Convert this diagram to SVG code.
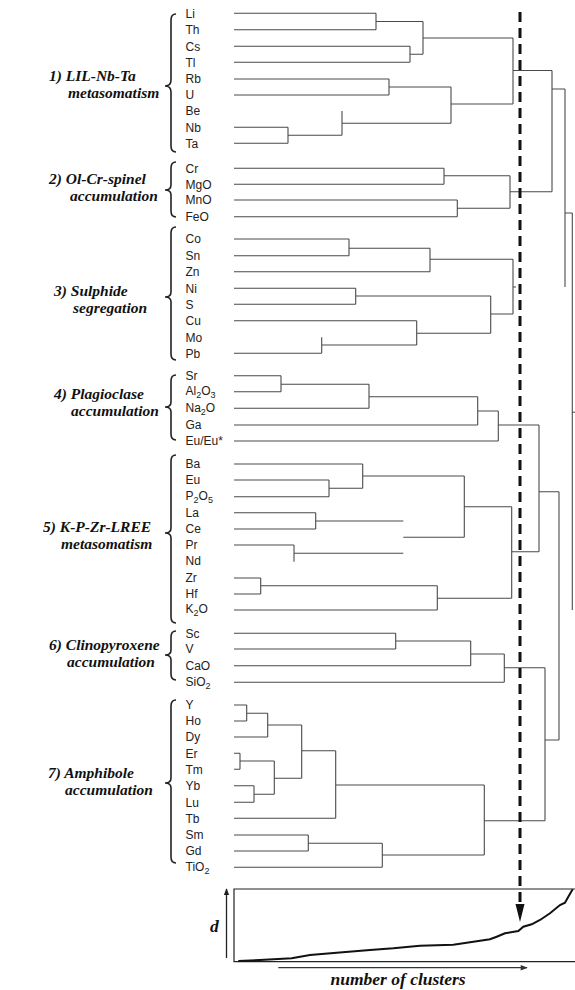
<svg xmlns="http://www.w3.org/2000/svg" width="575" height="990" viewBox="0 0 575 990">
<style>
.lf{font-family:"Liberation Sans",Arial,sans-serif;font-size:12px;fill:#222}
.sub{font-size:9px}
.gl{font-family:"Liberation Serif","Times New Roman",serif;font-size:15.5px;font-weight:bold;font-style:italic;fill:#111}
.cl{font-family:"Liberation Serif","Times New Roman",serif;font-size:17.5px;font-weight:bold;font-style:italic;fill:#111}
.ln{fill:none;stroke:#4a4a4a;stroke-width:1.1}
.br{fill:none;stroke:#222;stroke-width:1.6}
.ax{fill:none;stroke:#222;stroke-width:1.2}
</style>
<defs>
<marker id="ah" viewBox="0 0 10 10" refX="9" refY="5" markerWidth="7" markerHeight="7" markerUnits="userSpaceOnUse" orient="auto"><path d="M0,1 L10,5 L0,9 Z" fill="#222"/></marker>
<marker id="ah2" viewBox="0 0 10 10" refX="9" refY="5" markerWidth="9" markerHeight="7" markerUnits="userSpaceOnUse" orient="auto"><path d="M0,1 L10,5 L0,9 Z" fill="#333"/></marker>
</defs>

<g id="group1-label"><text class="gl" x="49" y="80.5">1) LIL-Nb-Ta</text><text class="gl" x="68" y="97.5">metasomatism</text>
<path class="br" d="M176,14 Q171,14 171,20 L171,80 Q171,86 165,86 Q171,86 171,92 L171,146 Q171,152 176,152"/></g>
<g id="group2-label"><text class="gl" x="49" y="183.5">2) Ol-Cr-spinel</text><text class="gl" x="70" y="200.5">accumulation</text>
<path class="br" d="M176,162 Q171,162 171,168 L171,185 Q171,190 165,190 Q171,190 171,195 L171,211 Q171,217 176,217"/></g>
<g id="group3-label"><text class="gl" x="54" y="295.5">3) Sulphide</text><text class="gl" x="73" y="312.5">segregation</text>
<path class="br" d="M176,227 Q171,227 171,233 L171,292 Q171,297 165,297 Q171,297 171,302 L171,354 Q171,360 176,360"/></g>
<g id="group4-label"><text class="gl" x="54" y="398.5">4) Plagioclase</text><text class="gl" x="71" y="415.5">accumulation</text>
<path class="br" d="M176,375 Q171,375 171,381 L171,402 Q171,407 165,407 Q171,407 171,412 L171,434 Q171,440 176,440"/></g>
<g id="group5-label"><text class="gl" x="43" y="531.5">5) K-P-Zr-LREE</text><text class="gl" x="61" y="548.5">metasomatism</text>
<path class="br" d="M176,455 Q171,455 171,461 L171,528 Q171,533 165,533 Q171,533 171,538 L171,617 Q171,623 176,623"/></g>
<g id="group6-label"><text class="gl" x="49" y="649.5">6) Clinopyroxene</text><text class="gl" x="67" y="666.5">accumulation</text>
<path class="br" d="M176,631 Q171,631 171,637 L171,650 Q171,655 165,655 Q171,655 171,660 L171,674 Q171,680 176,680"/></g>
<g id="group7-label"><text class="gl" x="48" y="777.5">7) Amphibole</text><text class="gl" x="65" y="794.5">accumulation</text>
<path class="br" d="M176,700 Q171,700 171,706 L171,778 Q171,783 165,783 Q171,783 171,788 L171,857 Q171,863 176,863"/></g>

<g id="leaves">
<text class="lf" x="185.5" y="17.6">Li</text>
<text class="lf" x="185.5" y="34">Th</text>
<text class="lf" x="185.5" y="50.6">Cs</text>
<text class="lf" x="185.5" y="66.6">Tl</text>
<text class="lf" x="185.5" y="83.3">Rb</text>
<text class="lf" x="185.5" y="99.3">U</text>
<text class="lf" x="185.5" y="115.3">Be</text>
<text class="lf" x="185.5" y="131.6">Nb</text>
<text class="lf" x="185.5" y="147.6">Ta</text>
<text class="lf" x="185.5" y="172.6">Cr</text>
<text class="lf" x="185.5" y="188.6">MgO</text>
<text class="lf" x="185.5" y="204.3">MnO</text>
<text class="lf" x="185.5" y="221">FeO</text>
<text class="lf" x="185.5" y="243.3">Co</text>
<text class="lf" x="185.5" y="260">Sn</text>
<text class="lf" x="185.5" y="276">Zn</text>
<text class="lf" x="185.5" y="292.6">Ni</text>
<text class="lf" x="185.5" y="308.6">S</text>
<text class="lf" x="185.5" y="325">Cu</text>
<text class="lf" x="185.5" y="341.6">Mo</text>
<text class="lf" x="185.5" y="357.6">Pb</text>
<text class="lf" x="185.5" y="380">Sr</text>
<text class="lf" x="185.5" y="395">Al<tspan class="sub" dy="3">2</tspan><tspan dy="-3">O</tspan><tspan class="sub" dy="3">3</tspan></text>
<text class="lf" x="185.5" y="411.6">Na<tspan class="sub" dy="3">2</tspan><tspan dy="-3">O</tspan></text>
<text class="lf" x="185.5" y="429.3">Ga</text>
<text class="lf" x="185.5" y="445.3">Eu/Eu*</text>
<text class="lf" x="185.5" y="468.3">Ba</text>
<text class="lf" x="185.5" y="484.3">Eu</text>
<text class="lf" x="185.5" y="500">P<tspan class="sub" dy="3">2</tspan><tspan dy="-3">O</tspan><tspan class="sub" dy="3">5</tspan></text>
<text class="lf" x="185.5" y="517">La</text>
<text class="lf" x="185.5" y="533.3">Ce</text>
<text class="lf" x="185.5" y="549.3">Pr</text>
<text class="lf" x="185.5" y="565.3">Nd</text>
<text class="lf" x="185.5" y="582.3">Zr</text>
<text class="lf" x="185.5" y="598.3">Hf</text>
<text class="lf" x="185.5" y="613.3">K<tspan class="sub" dy="3">2</tspan><tspan dy="-3">O</tspan></text>
<text class="lf" x="185.5" y="637.6">Sc</text>
<text class="lf" x="185.5" y="653.3">V</text>
<text class="lf" x="185.5" y="670">CaO</text>
<text class="lf" x="185.5" y="685.6">SiO<tspan class="sub" dy="3">2</tspan></text>
<text class="lf" x="185.5" y="709.3">Y</text>
<text class="lf" x="185.5" y="725.3">Ho</text>
<text class="lf" x="185.5" y="741.3">Dy</text>
<text class="lf" x="185.5" y="757.6">Er</text>
<text class="lf" x="185.5" y="773.6">Tm</text>
<text class="lf" x="185.5" y="790">Yb</text>
<text class="lf" x="185.5" y="806.6">Lu</text>
<text class="lf" x="185.5" y="822.6">Tb</text>
<text class="lf" x="185.5" y="839.3">Sm</text>
<text class="lf" x="185.5" y="855.3">Gd</text>
<text class="lf" x="185.5" y="870.6">TiO<tspan class="sub" dy="3">2</tspan></text>
</g>

<g id="connectors">
<path class="ln" d="M234,13.3H376M234,29.7H376M376,13.3V29.7M376,21.5H423M234,46.3H410M234,62.3H410M410,46.3V62.3M410,54.3H423M423,21.5V54.3M423,38H513M234,79H389M234,95H389M389,79V95M389,87H451M342,111V135.3M234,127.3H288M234,143.3H288M288,127.3V143.3M288,135.3H342M342,123.3H451M451,87V123.3M451,104H513M513,38V104M513,70.5H552M552,70.5V191.7M552,89H565M565,89V287"/>
<path class="ln" d="M234,168.3H444M234,184.3H444M444,168.3V184.3M444,175.7H510M234,200H457.3M234,216.7H457.3M457.3,200V216.7M457.3,208.3H510M510,175.7V208.3M510,191.7H552M565,213H572.3M572.3,213V610M572.3,412.3H575"/>
<path class="ln" d="M234,239H349M234,255.7H349M349,239V255.7M349,248.3H430M234,271.7H430M430,248.3V271.7M430,259.3H513M234,288.3H355.7M234,304.3H355.7M355.7,288.3V304.3M355.7,296H490.7M234,320.7H416.7M234,353.3H321.7M321.7,337.3V353.3M321.7,345H416.7M416.7,320.7V345M416.7,333.3H490.7M490.7,296V333.3M490.7,314H513M513,259.3V314M513,287H516"/>
<path class="ln" d="M234,375.7H281M234,391.7H281M281,375.7V391.7M281,384.3H369M234,408.3H369M369,384.3V408.3M369,396.7H477.7M234,425H477.7M477.7,396.7V425M477.7,411H498.3M234,441H498.3M498.3,411V441M498.3,425H539M539,425V551.7"/>
<path class="ln" d="M234,464H362.7M234,480H329M234,496.7H329M329,480V496.7M329,488.3H362.7M362.7,464V488.3M362.7,476H464.3M234,512.7H315.7M234,529H315.7M315.7,512.7V529M315.7,521H403.3M403.3,537.3H464.3M464.3,476V537.3M464.3,506.7H511.7M234,545H294M294,545V561.7M294,553.3H403.3M234,578H260.7M234,594H260.7M260.7,578V594M260.7,585.7H437.3M234,610H437.3M437.3,585.7V610M437.3,598.3H511.7M511.7,506.7V598.3M511.7,551.7H539M539,491.7H559M559,491.7V740"/>
<path class="ln" d="M234,633.3H395.7M234,649H395.7M395.7,633.3V649M395.7,641H470.7M234,665.7H470.7M470.7,641V665.7M470.7,654H504.3M234,682.3H504.3M504.3,654V682.3M504.3,667.7H545M545,667.7V820.7M545,740H559"/>
<path class="ln" d="M234,705H246.7M234,721H246.7M246.7,705V721M246.7,713.3H267.7M234,737H267.7M267.7,713.3V737M267.7,725H301.7M234,753.3H240M234,769.3H240M240,753.3V769.3M240,761H274.3M234,785.7H254M234,802.3H254M254,785.7V802.3M254,794.3H274.3M274.3,761V794.3M274.3,778.3H301.7M301.7,725V778.3M301.7,750.7H335.7M234,818.3H335.7M335.7,750.7V818.3M335.7,785H484.3M234,835H308.3M234,851H308.3M308.3,835V851M308.3,843.3H382.3M234,867.3H382.3M382.3,843.3V867.3M382.3,855H484.3M484.3,785V855M484.3,820.7H545"/>
<path d="M520,12V906" fill="none" stroke="#111" stroke-width="3" stroke-dasharray="10 6"/>
<path d="M515.5,904L520,922L524.5,904Z" fill="#111"/>
</g>

<g id="chart">
<path class="ax" d="M575,889H234V961.7H575"/>
<path d="M238.3,961L260,960L291.7,958.3L310,955L336.7,952.7L370,950L393.3,948.3L420,945.7L453.3,944.7L466.7,942.7L490,939.3L496.7,936.7L505,933.3L518.3,931L523.3,926.7L531.7,924.3L540,920L550,913.3L560,905L565,902.7L568.3,896.7L572.7,889.3" fill="none" stroke="#111" stroke-width="2"/>
<path d="M226.5,958V889" fill="none" stroke="#222" stroke-width="1.3" marker-end="url(#ah)"/>
<path d="M278.3,967.7H527" fill="none" stroke="#333" stroke-width="1.3" marker-end="url(#ah2)"/>
<text class="cl" x="210" y="932">d</text>
<text class="cl" x="398" y="985" text-anchor="middle">number of clusters</text>
</g>
</svg>
